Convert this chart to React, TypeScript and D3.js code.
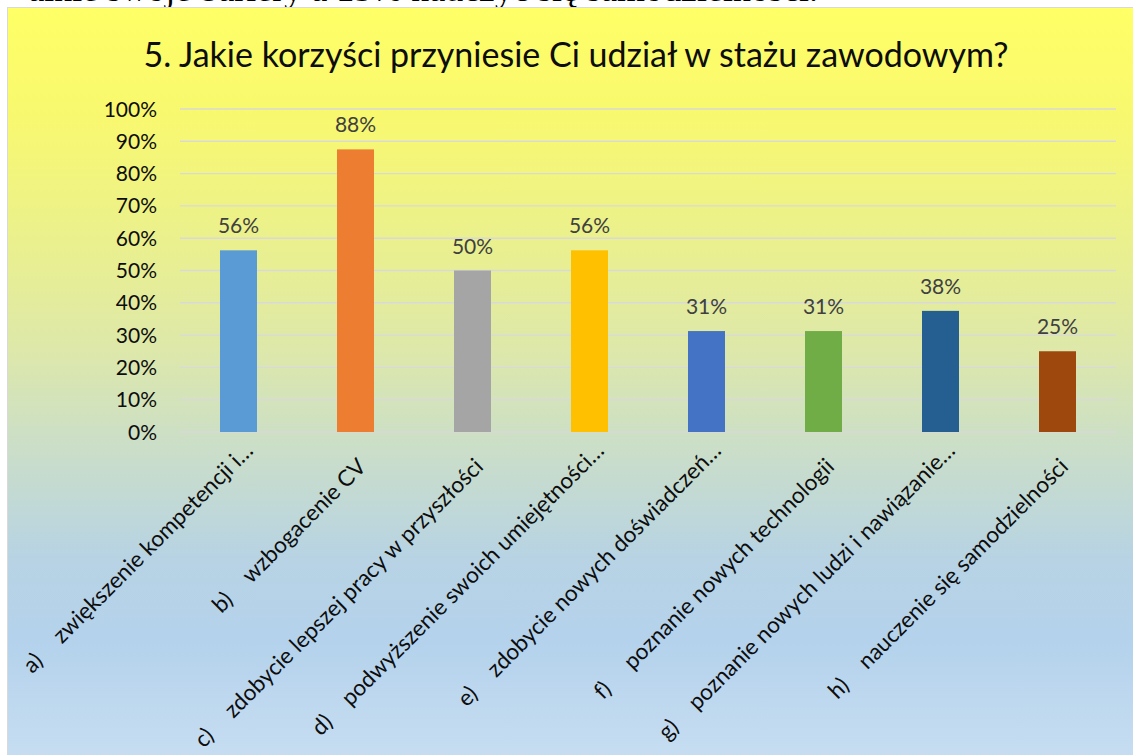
import React, { useEffect, useRef } from 'react';
import * as d3 from 'd3';

// question 5 answers (share of respondents)
const prefixes = ['a)', 'b)', 'c)', 'd)', 'e)', 'f)', 'g)', 'h)'];
const categories = [
  'zwiększenie kompetencji i…',
  'wzbogacenie CV',
  'zdobycie lepszej pracy w przyszłości',
  'podwyższenie swoich umiejętności…',
  'zdobycie nowych doświadczeń…',
  'poznanie nowych technologii',
  'poznanie nowych ludzi i nawiązanie…',
  'nauczenie się samodzielności',
];
const values = [0.5625, 0.875, 0.5, 0.5625, 0.3125, 0.3125, 0.375, 0.25];
const barColors = ['#5B9BD5', '#ED7D31', '#A5A5A5', '#FFC000', '#4472C4', '#70AD47', '#255E91', '#9E480E'];
const yTicks = [0, 0.1, 0.2, 0.3, 0.4, 0.5, 0.6, 0.7, 0.8, 0.9, 1];

const title = '5. Jakie korzyści przyniesie Ci udział w stażu zawodowym?';
const topLine = 'alnie swoje bariery a 15% nauczyć się samodzielności.';

const W = 1133;
const H = 755;
const FONT = 'Lato, "Noto Sans", sans-serif';

const App = () => {
  const ref = useRef<SVGSVGElement | null>(null);

  useEffect(() => {
    const svg = d3.select(ref.current);
    svg.selectAll('*').remove();

    // background gradient of chart area
    const defs = svg.append('defs');
    const grad = defs
      .append('linearGradient')
      .attr('id', 'bg')
      .attr('gradientUnits', 'userSpaceOnUse')
      .attr('x1', 0)
      .attr('x2', 0)
      .attr('y1', 8)
      .attr('y2', 755);
    const stops: [number, string][] = [
      [8, '#FFFF66'],
      [120, '#F8F870'],
      [260, '#E8EF92'],
      [350, '#DDE8AA'],
      [440, '#CCDFC6'],
      [560, '#B7D3E4'],
      [640, '#B4D2EC'],
      [755, '#C6DDF1'],
    ];
    stops.forEach(([y, c]) => {
      grad.append('stop').attr('offset', (y - 8) / (755 - 8)).attr('stop-color', c);
    });

    // document text cut off above the chart
    svg
      .append('text')
      .attr('x', 818)
      .attr('y', 1)
      .attr('text-anchor', 'end')
      .style('font-family', '"Liberation Serif", serif')
      .style('font-size', '36px')
      .attr('fill', '#000')
      .text(topLine);

    svg
      .append('rect')
      .attr('x', 7.5)
      .attr('y', 7.5)
      .attr('width', 1140)
      .attr('height', 780)
      .attr('fill', 'url(#bg)')
      .attr('stroke', '#D9D9D9')
      .attr('stroke-width', 1);

    svg
      .append('text')
      .attr('x', 576)
      .attr('y', 67)
      .attr('text-anchor', 'middle')
      .style('font-family', FONT)
      .style('font-size', '34px')
      .attr('fill', '#0D0D0D')
      .text(title);

    const x = d3
      .scaleBand<string>()
      .domain(categories)
      .range([180, 1116])
      .paddingInner(80 / 117)
      .paddingOuter(40 / 117);
    const y = d3.scaleLinear().domain([0, 1]).range([432, 109]);

    // gridlines
    svg
      .append('g')
      .selectAll('line')
      .data(yTicks)
      .enter()
      .append('line')
      .attr('x1', 180)
      .attr('x2', 1116)
      .attr('y1', (d) => y(d))
      .attr('y2', (d) => y(d))
      .attr('stroke', '#D9D9D9')
      .attr('stroke-width', 1.4);

    // y tick labels
    svg
      .append('g')
      .selectAll('text')
      .data(yTicks)
      .enter()
      .append('text')
      .attr('x', 157)
      .attr('y', (d) => y(d) + 7.5)
      .attr('text-anchor', 'end')
      .style('font-family', FONT)
      .style('font-size', '21px')
      .attr('fill', '#0D0D0D')
      .text((d) => d3.format('.0%')(d));

    const data = categories.map((c, i) => ({ cat: c, prefix: prefixes[i], value: values[i], color: barColors[i] }));

    svg
      .append('g')
      .selectAll('rect')
      .data(data)
      .enter()
      .append('rect')
      .attr('x', (d) => x(d.cat)!)
      .attr('width', x.bandwidth())
      .attr('y', (d) => y(d.value))
      .attr('height', (d) => y(0) - y(d.value))
      .attr('fill', (d) => d.color);

    // data labels
    svg
      .append('g')
      .selectAll('text')
      .data(data)
      .enter()
      .append('text')
      .attr('x', (d) => x(d.cat)! + x.bandwidth() / 2)
      .attr('y', (d) => y(d.value) - 17)
      .attr('text-anchor', 'middle')
      .style('font-family', FONT)
      .style('font-size', '21px')
      .attr('fill', '#404040')
      .text((d) => d3.format('.0%')(d.value));

    // rotated category labels (truncated ones sit half a line higher)
    const labels = svg
      .append('g')
      .selectAll('g')
      .data(data)
      .enter()
      .append('g')
      .attr('transform', (d) => {
        const cx = x(d.cat)! + x.bandwidth() / 2;
        const truncated = d.cat.endsWith('…');
        const ax = cx + (truncated ? 16 : 12);
        const ay = y(0) + (truncated ? 20 : 36);
        return `translate(${ax},${ay}) rotate(-45)`;
      });

    labels.each(function (d) {
      const g = d3.select(this);
      const main = g
        .append('text')
        .attr('x', 0)
        .attr('y', 0)
        .attr('text-anchor', 'end')
        .style('font-family', FONT)
        .style('font-size', '22.5px')
        .attr('fill', '#0D0D0D')
        .text(d.cat);
      const len = (main.node() as SVGTextElement).getComputedTextLength();
      g.append('text')
        .attr('x', -len - 42)
        .attr('y', 0)
        .style('font-family', FONT)
        .style('font-size', '22.5px')
        .attr('fill', '#0D0D0D')
        .text(d.prefix);
    });
  }, []);

  return (
    <div style={{ position: 'fixed', left: 0, top: 0, width: W, height: H, background: '#fff' }}>
      <svg ref={ref} width={W} height={H} style={{ display: 'block' }} />
    </div>
  );
};

export default App;
